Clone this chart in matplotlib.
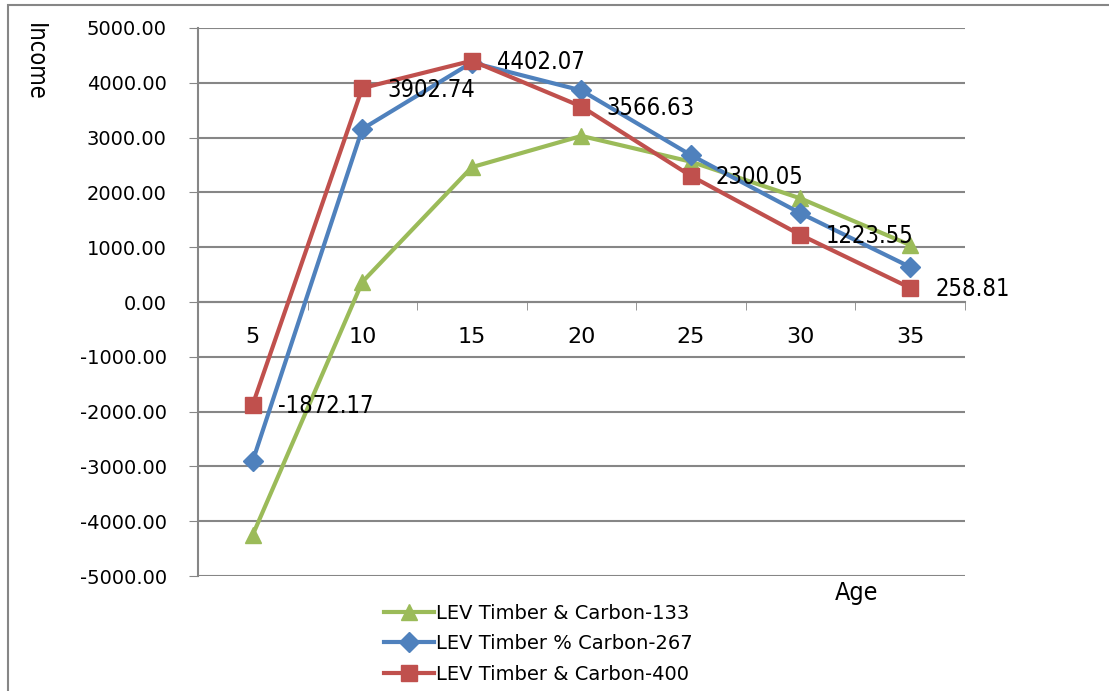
import matplotlib
matplotlib.use("Agg")
import matplotlib.pyplot as plt
from matplotlib.patches import Rectangle
from matplotlib.ticker import FormatStrFormatter, FixedLocator

# data
ages = ["5", "10", "15", "20", "25", "30", "35"]
lev_133 = [-4250, 365, 2460, 3030, 2560, 1890, 1040]
lev_267 = [-2900, 3157, 4370, 3860, 2680, 1620, 640]
lev_400 = [-1872.17, 3902.74, 4402.07, 3566.63, 2300.05, 1223.55, 258.81]
labels = ["LEV Timber & Carbon-133", "LEV Timber % Carbon-267", "LEV Timber & Carbon-400"]

narrow = dict(family="DejaVu Sans", stretch="condensed")
grey = "#868686"

fig = plt.figure(figsize=(11.09, 6.91), dpi=100)
ax = fig.add_axes([0.1785, 0.1664, 0.870 - 0.1785, 0.9595 - 0.1664])

x = list(range(len(ages)))
ax.plot(x, lev_133, color="#9BBB59", lw=3, marker="^", ms=12, label=labels[0], zorder=3)
ax.plot(x, lev_267, color="#4F81BD", lw=3, marker="D", ms=10, label=labels[1], zorder=4)
ax.plot(x, lev_400, color="#C0504D", lw=3, marker="s", ms=11, label=labels[2], zorder=5)

# data labels for the 400 series
for xi, v in zip(x, lev_400):
    ax.annotate(f"{v:.2f}", (xi, v), xytext=(18, -1), textcoords="offset points",
                ha="left", va="center", fontsize=17, zorder=6, **narrow)

ax.set_xlim(-0.5, 6.5)
ax.set_ylim(-5000, 5000)
ax.set_yticks(range(-5000, 5001, 1000))
ax.yaxis.set_major_formatter(FormatStrFormatter("%.2f"))
ax.tick_params(axis="y", labelsize=14, length=6.5, color=grey, pad=16)

ax.set_xticks(x)
ax.set_xticklabels(ages)
ax.xaxis.set_minor_locator(FixedLocator([i - 0.5 for i in range(8)]))
ax.tick_params(axis="x", which="major", length=0, pad=18, labelsize=16)
ax.tick_params(axis="x", which="minor", length=6, color=grey, direction="out")
for t in ax.get_xticklabels():
    t.set_fontstretch("condensed")

ax.grid(axis="y", color=grey, lw=1.5)
ax.set_axisbelow(True)
for s in ["top", "right"]:
    ax.spines[s].set_visible(False)
ax.spines["bottom"].set_position(("data", 0))
ax.spines["bottom"].set_color(grey)
ax.spines["bottom"].set_linewidth(1.5)
ax.spines["left"].set_color(grey)
ax.spines["left"].set_linewidth(1.5)

fig.text(35 / 1109, 1 - 62 / 691, "Income", rotation=270, ha="center", va="center",
         fontsize=17, **narrow)
fig.text(857 / 1109, 1 - 593 / 691, "Age", ha="center", va="center", fontsize=18, **narrow)

fig.legend(loc="upper left", bbox_to_anchor=(370 / 1109, 1 - 590 / 691), frameon=False,
           fontsize=14, handlelength=2.6, handletextpad=0.1, labelspacing=0.6,
           borderpad=0.2)

# outer chart border
fig.patches.append(Rectangle((8 / 1109, -0.1), 1.5, 1 - 5 / 691 + 0.1, transform=fig.transFigure,
                             fill=False, edgecolor=grey, lw=1.5))

fig.savefig("out.png", dpi=100)
